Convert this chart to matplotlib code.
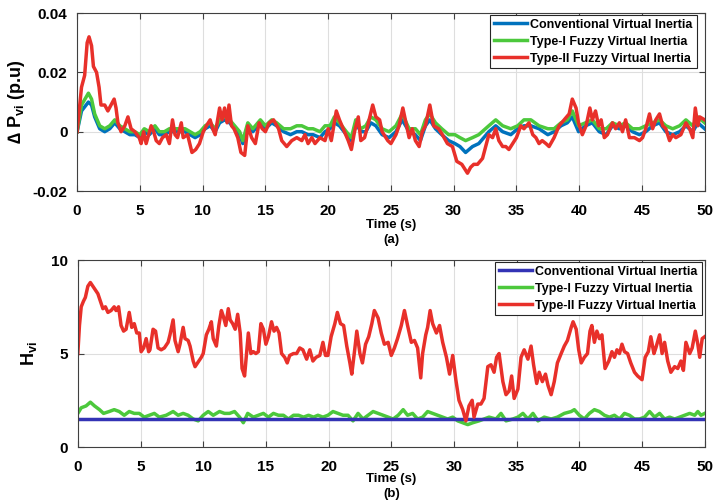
import matplotlib
matplotlib.use("Agg")
import matplotlib.pyplot as plt
import numpy as np

plt.rcParams.update({"font.family": ["Liberation Sans", "DejaVu Sans"],
                     "font.weight": "bold",
                     "mathtext.default": "regular"})

blue = "#0072BD"
navy = "#3333B5"
green = "#4CC83C"
red = "#E8302A"

labels = ["Conventional Virtual Inertia",
          "Type-I Fuzzy Virtual Inertia",
          "Type-II Fuzzy Virtual Inertia"]

# ---- panel (a): Delta P_vi (p.u) ----
t_red_a = [
    0, 0.35, 0.6, 0.8, 0.95, 1.15, 1.3, 1.55, 1.75, 1.9,
    2.2, 2.45, 2.7, 2.95, 3.1, 3.25, 3.5, 3.8, 4.05, 4.3,
    4.6, 4.95, 5.1, 5.3, 5.5, 5.7, 5.9, 6.1, 6.3, 6.55,
    6.8, 7.1, 7.35, 7.6, 7.8, 8.0, 8.3, 8.45, 8.8, 9.15,
    9.45, 9.75, 10.05, 10.3, 10.6, 10.8, 11.0, 11.35, 11.55, 11.75,
    11.95, 12.1, 12.3, 12.5, 12.8, 13.05, 13.35, 13.6, 13.9, 14.2,
    14.5, 14.75, 15.0, 15.3, 15.65, 16.05, 16.3, 16.7, 17.1, 17.5,
    17.9, 18.15, 18.4, 18.7, 18.95, 19.35, 19.75, 20.0, 20.25, 20.65,
    20.9, 21.3, 21.6, 21.85, 22.1, 22.4, 22.6, 22.9, 23.15, 23.55,
    23.8, 24.1, 24.3, 24.75, 25.0, 25.4, 25.65, 25.95, 26.2, 26.45,
    26.7, 26.95, 27.25, 27.5, 27.75, 28.1, 28.4, 28.8, 29.1, 29.5,
    29.9, 30.25, 30.65, 31.1, 31.35, 31.6, 31.9, 32.3, 32.55, 32.8,
    33.1, 33.35, 33.6, 33.9, 34.15, 34.4, 34.7, 35.0, 35.35, 35.6,
    36.0, 36.3, 36.55, 36.8, 37.05, 37.35, 37.6, 38.0, 38.4, 38.8,
    39.2, 39.45, 39.75, 39.95, 40.25, 40.55, 40.85, 41.05, 41.3, 41.55,
    41.75, 42.0, 42.25, 42.65, 42.9, 43.2, 43.45, 43.7, 44.0, 44.4,
    44.8, 45.05, 45.3, 45.6, 45.85, 46.1, 46.4, 46.65, 46.9, 47.2,
    47.45, 47.7, 48.1, 48.5, 48.8, 49.05, 49.25, 49.45, 49.6, 50.0]
red_a = [
    0.000, 0.015, 0.019, 0.030, 0.032, 0.029, 0.022, 0.020, 0.015, 0.009,
    0.009, 0.007, 0.009, 0.011, 0.008, 0.003, 0.000, 0.002, 0.005, 0.001,
    0.000, -0.002, -0.004, 0.000, -0.004, -0.001, 0.002, 0.000, -0.003, -0.004,
    -0.002, -0.001, -0.004, 0.004, -0.001, -0.002, 0.003, -0.002, -0.001, -0.007,
    -0.006, -0.004, 0.000, 0.002, 0.004, 0.001, -0.001, 0.008, 0.004, 0.008,
    0.003, 0.009, 0.002, 0.001, -0.002, -0.007, -0.008, 0.002, -0.002, -0.004,
    0.003, 0.001, 0.000, 0.003, 0.004, 0.001, -0.003, -0.005, -0.003, -0.002,
    -0.003, -0.001, -0.004, -0.002, -0.004, -0.002, -0.003, 0.001, -0.003, 0.007,
    0.004, 0.000, -0.003, -0.006, 0.000, 0.005, -0.003, -0.002, 0.002, 0.009,
    0.005, 0.004, 0.000, -0.003, -0.004, -0.001, 0.002, 0.008, 0.003, -0.002,
    0.001, -0.003, -0.005, 0.000, 0.002, 0.009, 0.002, 0.001, -0.001, -0.004,
    -0.005, -0.010, -0.011, -0.014, -0.012, -0.011, -0.011, -0.009, -0.005, -0.001,
    -0.002, 0.001, -0.003, -0.005, -0.005, -0.006, -0.004, -0.002, 0.002, 0.001,
    0.003, -0.001, -0.002, -0.004, -0.003, -0.004, -0.005, -0.002, 0.002, 0.004,
    0.006, 0.011, 0.008, 0.003, -0.001, 0.002, 0.008, 0.004, 0.007, 0.002,
    0.004, -0.002, -0.001, 0.003, 0.001, 0.003, 0.000, 0.004, -0.002, -0.002,
    -0.003, -0.002, 0.001, 0.006, 0.001, 0.004, 0.006, 0.002, 0.001, -0.003,
    -0.001, -0.002, -0.001, 0.003, 0.001, -0.002, 0.008, 0.002, 0.005, 0.004]

t_gb_a = [
    0, 0.35, 0.9, 1.15, 1.4, 1.8, 2.2, 2.6, 3.0, 3.4,
    3.8, 4.2, 4.6, 5.0, 5.35, 5.75, 6.2, 6.55, 6.95, 7.35,
    7.8, 8.2, 8.6, 9.0, 9.4, 9.8, 10.2, 10.6, 11.0, 11.35,
    11.75, 12.15, 12.55, 12.95, 13.2, 13.6, 14.0, 14.4,
    14.6, 15.0, 15.5, 15.9, 16.45, 17.0, 17.5, 17.9, 18.4, 18.8,
    19.35, 19.75, 20.15, 20.5, 20.9, 21.45, 21.85, 22.2, 22.6, 23.0,
    23.4, 23.8, 24.3, 24.85, 25.4, 25.9, 26.45, 26.95, 27.35, 27.75,
    28.1, 28.55, 29.05, 29.6, 30.1,
    30.5, 30.95, 31.5, 32.0, 32.8, 33.35, 33.9, 34.55, 35.1, 35.6,
    36.15, 36.8, 37.5, 38.0, 38.55, 39.05, 39.45, 39.95, 40.5, 41.05,
    41.6, 42.15, 42.65, 43.2, 43.7, 44.25, 44.8, 45.3, 45.85, 46.4,
    46.9, 47.45, 48.0, 48.5, 49.05, 49.45, 50.0]
green_a = [
    0.000, 0.009, 0.013, 0.011, 0.006, 0.002, 0.001, 0.002, 0.004, 0.002,
    0.001, 0.000, 0.000, -0.001, 0.001, 0.000, 0.002, 0.000, 0.000, 0.001,
    0.001, 0.001, 0.001, 0.000, -0.001, 0.000, 0.002, 0.003, 0.001, 0.004,
    0.005, 0.004, 0.002, 0.000, -0.003, 0.003, 0.001, 0.003,
    0.004, 0.002, 0.004, 0.003, 0.001, 0.001, 0.002, 0.002, 0.001, 0.001,
    0.000, 0.002, 0.002, 0.005, 0.003, 0.000, -0.002, 0.004, 0.001, 0.002,
    0.005, 0.004, 0.001, 0.000, 0.002, 0.006, 0.001, 0.001, -0.001, 0.004,
    0.006, 0.003, 0.001, -0.001, -0.001,
    -0.002, -0.003, -0.002, -0.001, 0.002, 0.004, 0.002, 0.001, 0.002, 0.004,
    0.004, 0.002, 0.001, 0.001, 0.003, 0.004, 0.007, 0.002, 0.003, 0.004,
    0.001, 0.001, 0.003, 0.002, 0.003, 0.001, 0.001, 0.002, 0.003, 0.004,
    0.002, 0.001, 0.002, 0.004, 0.002, 0.005, 0.003]
blue_a = [
    0.000, 0.007, 0.010, 0.009, 0.005, 0.001, 0.000, 0.001, 0.003, 0.001,
    0.000, -0.001, -0.001, -0.002, 0.000, -0.001, 0.001, -0.001, -0.001, 0.000,
    0.000, 0.000, 0.000, -0.001, -0.002, -0.001, 0.001, 0.002, 0.000, 0.003,
    0.004, 0.003, 0.001, -0.001, -0.004, 0.002, 0.000, 0.002,
    0.003, 0.001, 0.003, 0.002, 0.000, -0.001, 0.000, 0.000, -0.001, -0.001,
    -0.002, 0.000, 0.001, 0.003, 0.002, -0.001, -0.003, 0.003, 0.000, 0.000,
    0.003, 0.002, -0.001, -0.002, 0.000, 0.004, 0.000, -0.001, -0.003, 0.002,
    0.004, 0.001, -0.001, -0.003, -0.004,
    -0.005, -0.007, -0.005, -0.004, 0.000, 0.002, 0.000, -0.001, 0.001, 0.002,
    0.002, 0.001, -0.001, 0.000, 0.002, 0.003, 0.005, 0.000, 0.002, 0.003,
    0.000, -0.001, 0.002, 0.001, 0.002, 0.000, -0.001, 0.000, 0.002, 0.003,
    0.000, -0.001, 0.000, 0.002, 0.000, 0.003, 0.001]

# ---- panel (b): H_vi ----
t_red_b = [
    0, 0.13, 0.27, 0.45, 0.6, 0.8, 1.0, 1.2, 1.4, 1.6,
    1.8, 2.0, 2.2, 2.4, 2.65, 2.9, 3.05, 3.25, 3.45, 3.65,
    3.85, 4.1, 4.3, 4.5, 4.7, 4.9, 5.05, 5.25, 5.45, 5.65,
    5.75, 6.0, 6.2, 6.4, 6.65, 6.9, 7.2, 7.35, 7.6, 7.75,
    8.0, 8.15, 8.4, 8.55, 8.8, 8.95, 9.2, 9.35, 9.55, 9.85,
    10.0, 10.25, 10.45, 10.65, 10.8, 11.05, 11.25, 11.45, 11.6, 11.8,
    12.0, 12.15, 12.35, 12.55, 12.75, 12.95,
    13.1, 13.3, 13.6, 13.8, 14.0, 14.2, 14.4, 14.6, 14.8, 15.0,
    15.2, 15.45, 15.65, 15.85, 16.05, 16.25, 16.5, 16.7, 16.9, 17.2,
    17.45, 17.7, 17.95, 18.25, 18.5, 18.75, 19.0, 19.3, 19.55, 19.75,
    19.95, 20.2, 20.5, 20.7, 20.95, 21.2, 21.45, 21.7, 21.85, 22.1,
    22.25, 22.5, 22.7, 22.95, 23.2, 23.45, 23.65, 23.95, 24.2, 24.45,
    24.75, 25.0, 25.25, 25.5, 25.8, 26.05, 26.3, 26.6, 26.85, 27.1,
    27.35, 27.5, 27.75, 27.9, 28.1, 28.3, 28.6, 28.85, 29.1, 29.4,
    29.65, 29.9, 30.15,
    30.4, 30.7, 30.95, 31.2, 31.45, 31.6, 31.9, 32.15, 32.4, 32.7,
    32.95, 33.2, 33.4, 33.6, 33.9, 34.15, 34.4, 34.6, 34.8, 35.1,
    35.35, 35.6, 35.9, 36.15, 36.35, 36.6, 36.8, 37.05, 37.3, 37.5,
    37.75, 38.0, 38.25, 38.55, 38.8, 39.05, 39.35, 39.5, 39.75, 39.95,
    40.15, 40.4, 40.65, 40.85, 41.0, 41.2, 41.4, 41.6, 41.8, 42.05,
    42.35, 42.6, 42.8, 43.0, 43.2, 43.4, 43.6, 43.85, 44.1, 44.4,
    44.65, 45.0, 45.25, 45.5, 45.7, 45.95, 46.1, 46.4, 46.6, 46.8,
    47.05, 47.3, 47.6, 47.85, 48.1, 48.3, 48.5, 48.8, 49.0, 49.25,
    49.45, 49.6, 49.8, 50.0]
red_b = [
    5.0, 6.5, 7.5, 7.8, 8.0, 8.6, 8.8, 8.6, 8.4, 8.2,
    7.8, 7.4, 7.5, 7.2, 7.3, 7.5, 7.3, 7.5, 6.5, 6.2,
    6.3, 7.2, 6.4, 6.6, 6.1, 6.1, 5.1, 5.3, 5.8, 5.1,
    5.2, 6.3, 6.2, 5.3, 5.2, 5.3, 5.6, 6.0, 6.8, 5.7,
    5.1, 5.5, 6.4, 5.8, 5.7, 5.4, 4.6, 4.3, 4.5, 4.8,
    5.0, 6.0, 6.3, 6.7, 5.8, 5.4, 6.5, 7.3, 7.0, 6.5,
    7.4, 6.8, 6.6, 6.3, 7.1, 6.1,
    4.2, 3.8, 6.1, 5.0, 5.1, 5.0, 5.1, 6.6, 6.3, 5.5,
    5.9, 6.7, 6.2, 6.4, 6.1, 5.0, 4.8, 4.5, 4.9, 5.0,
    5.0, 5.3, 5.2, 4.7, 5.2, 4.6, 4.8, 4.9, 5.6, 4.9,
    4.9, 5.9, 6.6, 7.2, 6.6, 6.5, 5.4, 4.5, 3.9, 5.3,
    6.2, 5.0, 4.5, 5.5, 5.9, 6.6, 7.3, 6.9, 6.1, 5.5,
    5.6, 4.9, 5.3, 5.8, 6.5, 7.3, 6.5, 5.6, 5.7, 5.3,
    3.7, 5.0, 6.0, 6.4, 7.3, 6.6, 6.1, 6.5, 5.6, 4.8,
    3.9, 4.9, 3.6,
    2.5, 2.0, 1.4, 2.2, 2.5, 1.6, 2.3, 2.3, 2.6, 4.3,
    4.4, 4.0, 4.8, 5.0, 3.5, 2.8, 3.0, 3.8, 2.6, 3.1,
    4.8, 5.2, 4.7, 5.4, 4.4, 3.4, 4.0, 3.5, 3.9, 3.3,
    2.8, 3.5, 4.5, 5.0, 5.4, 5.7, 6.4, 6.7, 6.3, 5.2,
    4.5, 4.8, 5.0, 6.2, 6.5, 5.6, 6.2, 5.8, 6.0, 4.2,
    4.6, 5.1, 4.8, 5.2, 5.0, 5.5, 5.1, 5.0, 4.5, 4.0,
    3.8, 3.6, 4.8, 5.1, 5.9, 5.0, 5.3, 6.0, 5.0, 5.6,
    4.6, 4.0, 4.3, 4.2, 4.6, 4.1, 5.6, 5.0, 5.3, 6.2,
    5.5, 4.8, 5.8, 5.9]

t_green_b = [
    0, 0.27, 0.66, 1.0, 1.33, 1.73, 2.05, 2.5, 2.9, 3.3,
    3.7, 4.1, 4.5, 4.9, 5.3, 5.7, 6.1, 6.5, 7.05, 7.6,
    8.0, 8.4, 8.8, 9.2, 9.6, 10.0, 10.4, 10.8, 11.3, 11.7,
    12.1, 12.5, 12.9, 13.2, 13.55, 14.0, 14.4,
    14.8, 15.2, 15.6, 16.0, 16.4, 16.8, 17.2, 17.6, 18.0, 18.4,
    18.8, 19.15, 19.55, 19.95, 20.35, 20.75, 21.15, 21.55, 21.95, 22.35,
    22.75, 23.15, 23.55, 23.95, 24.35, 24.75, 25.15, 25.55, 25.95, 26.3,
    26.7, 27.1, 27.5, 27.9, 28.3, 28.7, 29.1, 29.5, 29.9, 30.3,
    30.7, 31.1, 31.5, 32.0, 32.4, 32.8, 33.35, 33.75, 34.15, 34.7,
    35.1, 35.5, 35.9, 36.3, 36.7, 37.2, 37.75, 38.25, 38.8, 39.35,
    39.6, 40.0, 40.4, 40.8, 41.2, 41.6, 42.0, 42.4, 42.8, 43.2,
    43.6, 44.0, 44.4, 44.8, 45.2, 45.6, 46.0, 46.4, 46.8, 47.2,
    47.6, 48.0, 48.4, 48.8, 49.2, 49.45, 49.7, 50.0]
green_b = [
    1.8, 2.1, 2.2, 2.4, 2.2, 2.0, 1.8, 1.9, 2.0, 1.9,
    1.7, 1.9, 1.8, 1.8, 1.6, 1.7, 1.8, 1.6, 1.7, 1.9,
    1.7, 1.8, 1.7, 1.5, 1.4, 1.7, 1.9, 1.7, 1.9, 1.8,
    1.8, 1.9, 1.6, 1.3, 1.8, 1.6, 1.7,
    1.8, 1.6, 1.8, 1.7, 1.7, 1.5, 1.7, 1.7, 1.6, 1.7,
    1.6, 1.7, 1.6, 1.7, 1.9, 1.8, 1.7, 1.7, 1.4, 1.8,
    1.5, 1.7, 1.9, 1.8, 1.7, 1.6, 1.5, 1.7, 2.0, 1.7,
    1.8, 1.5, 1.6, 1.9, 1.8, 1.7, 1.6, 1.5, 1.6, 1.4,
    1.3, 1.2, 1.3, 1.4, 1.5, 1.6, 1.5, 1.8, 1.4, 1.5,
    1.6, 1.8, 1.5, 1.8, 1.4, 1.6, 1.5, 1.6, 1.8, 1.9,
    2.0, 1.7, 1.5, 1.8, 2.0, 1.9, 1.7, 1.6, 1.7, 1.5,
    1.8, 1.7, 1.5, 1.5, 1.6, 1.9, 1.6, 1.8, 1.5, 1.6,
    1.5, 1.6, 1.7, 1.8, 1.7, 1.9, 1.7, 1.8]

t_blue_b = [0, 50]
blue_b = [1.5, 1.5]


def style_axes(ax):
    ax.set_xlim(0, 50)
    ax.set_xticks(np.arange(0, 51, 5))
    ax.grid(True, color="#dedede", linewidth=0.8)
    ax.set_axisbelow(True)
    ax.tick_params(direction="in", top=True, right=True, length=4,
                   color="#404040", labelsize=11, pad=7)
    ax.tick_params(axis="x", pad=9)
    for s in ax.spines.values():
        s.set_color("#404040")
        s.set_linewidth(0.8)
    for lab in ax.get_xticklabels() + ax.get_yticklabels():
        lab.set_fontweight("bold")


fig = plt.figure(figsize=(7.14, 5.04), dpi=100)

lw = 2.5
ax1 = fig.add_axes([0.108, 0.621, 0.879, 0.353])
ax1.plot(t_gb_a, blue_a, color=blue, lw=lw, label=labels[0])
ax1.plot(t_gb_a, green_a, color=green, lw=lw, label=labels[1])
ax1.plot(t_red_a, red_a, color=red, lw=lw, label=labels[2])
ax1.set_ylim(-0.02, 0.04)
ax1.set_yticks([-0.02, 0, 0.02, 0.04])
ax1.set_yticklabels(["-0.02", "0", "0.02", "0.04"])
style_axes(ax1)
ax1.set_ylabel("∆ P$_{vi}$ (p.u)", fontsize=13, fontweight="bold", labelpad=4)
leg1 = ax1.legend(loc="upper right", bbox_to_anchor=(0.987, 0.99),
                  borderaxespad=0, fancybox=False, framealpha=1,
                  edgecolor="#262626", prop={"size": 9, "weight": "bold"},
                  handlelength=2.6, labelspacing=0.4, borderpad=0.3,
                  handletextpad=0.3)
leg1.get_frame().set_linewidth(0.8)
fig.text(0.548, 0.553, "Time (s)", ha="center", va="center",
         fontsize=9.5, fontweight="bold")
fig.text(0.548, 0.524, "(a)", ha="center", va="center",
         fontsize=9.5, fontweight="bold")

ax2 = fig.add_axes([0.109, 0.113, 0.878, 0.371])
l_g, = ax2.plot(t_green_b, green_b, color=green, lw=lw, label=labels[1])
l_b, = ax2.plot(t_blue_b, blue_b, color=navy, lw=lw, label=labels[0])
l_r, = ax2.plot(t_red_b, red_b, color=red, lw=lw, label=labels[2])
ax2.set_ylim(0, 10)
ax2.set_yticks([0, 5, 10])
style_axes(ax2)
ax2.set_ylabel("H$_{vi}$", fontsize=13, fontweight="bold", labelpad=9)
leg2 = ax2.legend([l_b, l_g, l_r], labels, loc="upper right",
                  bbox_to_anchor=(0.995, 0.99),
                  borderaxespad=0, fancybox=False, framealpha=1,
                  edgecolor="#262626", prop={"size": 9, "weight": "bold"},
                  handlelength=2.6, labelspacing=0.4, borderpad=0.3,
                  handletextpad=0.3)
leg2.get_frame().set_linewidth(0.8)
fig.text(0.548, 0.05, "Time (s)", ha="center", va="center",
         fontsize=9.5, fontweight="bold")
fig.text(0.548, 0.02, "(b)", ha="center", va="center",
         fontsize=9.5, fontweight="bold")

fig.savefig("out.png", dpi=100)
